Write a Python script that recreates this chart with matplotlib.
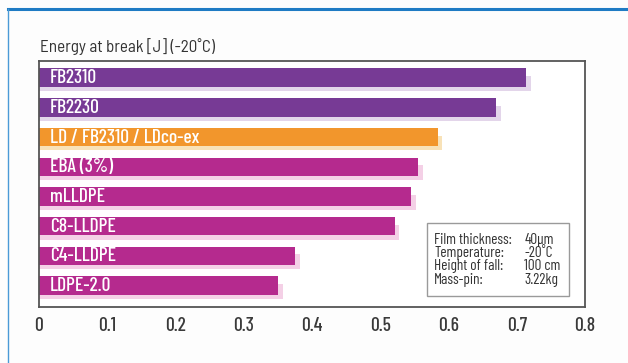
import matplotlib
matplotlib.use("Agg")
from matplotlib import pyplot as plt
from matplotlib.lines import Line2D

# Dados
materiais = ["FB2310", "FB2230", "LD / FB2310 / LDco-ex", "EBA (3%)",
             "mLLDPE", "C8-LLDPE", "C4-LLDPE", "LDPE-2.0"]
energia = [0.714, 0.670, 0.584, 0.555, 0.545, 0.521, 0.375, 0.350]
cores = ["#773a95", "#773a95", "#f2962c", "#b52a8e",
         "#b52a8e", "#b52a8e", "#b52a8e", "#b52a8e"]
sombras = ["#e3d5ea", "#e3d5ea", "#f8e2b8", "#f4d0e6",
           "#f4d0e6", "#f4d0e6", "#f4d0e6", "#f4d0e6"]
ticks_x = [0, 0.1, 0.2, 0.3, 0.4, 0.5, 0.6, 0.7, 0.8]
info_rotulos = ["Film thickness:", "Temperature:", "Height of fall:", "Mass-pin:"]
info_valores = ["40\u03bcm", "-20\u02daC", "100 cm", "3.22kg"]

fonte = ["Barlow Semi Condensed", "DejaVu Sans"]
fonte_estreita = ["Barlow Condensed", "DejaVu Sans"]

fig = plt.figure(figsize=(6.28, 3.63), dpi=100)
fig.patch.set_facecolor("#fdfdfd")
ax = fig.add_axes([0.0621, 0.1543, 0.8694, 0.6777])

posicoes = list(range(len(materiais)))

# sombra embaixo de cada barra
for y, v, s in zip(posicoes, energia, sombras):
    ax.barh(y + 0.2, v + 0.007, height=0.5, color=s, zorder=1)

ax.barh(posicoes, energia, height=0.62, color=cores, zorder=2)

for y, nome in zip(posicoes, materiais):
    ax.text(0.016, y + 0.02, nome, color="white", fontsize=14, va="center",
            ha="left", family=fonte_estreita, weight="medium", zorder=3)

ax.set_xlim(0, 0.8)
ax.set_ylim(7.72, -0.56)
ax.set_yticks([])
ax.set_xticks(ticks_x)
ax.set_xticklabels([f"{t:g}" for t in ticks_x], family=fonte_estreita,
                   fontsize=14, color="#3a3a3a", weight="medium")
ax.tick_params(axis="x", length=0, pad=7)
for lado in ax.spines.values():
    lado.set_color("#555555")
    lado.set_linewidth(1.3)

# caixa de informações do ensaio
ax.add_patch(plt.Rectangle((0.568, 4.89), 0.2085, 2.46, fill=False,
                           edgecolor="#9a9a9a", linewidth=1, zorder=4))
ax.text(0.579, 6.13, "\n".join(info_rotulos), ha="left", va="center",
        fontsize=11, family=fonte_estreita, color="#333333", linespacing=0.95)
ax.text(0.711, 6.13, "\n".join(info_valores), ha="left", va="center",
        fontsize=11, family=fonte_estreita, color="#333333", linespacing=0.95)

fig.text(0.064, 0.872, "Energy at break [J] (-20\u02daC)", fontsize=12.3,
         family=fonte, color="#333333", ha="left", va="center")

# bordas azuis da moldura
fig.add_artist(Line2D([0.013, 1.0], [0.975, 0.975], color="#1f7bc4",
                      linewidth=2.2, transform=fig.transFigure))
fig.add_artist(Line2D([0.013, 0.013], [0.0, 0.975], color="#4a9ad6",
                      linewidth=1.0, transform=fig.transFigure))

fig.savefig("out.png", dpi=100, facecolor=fig.get_facecolor())
